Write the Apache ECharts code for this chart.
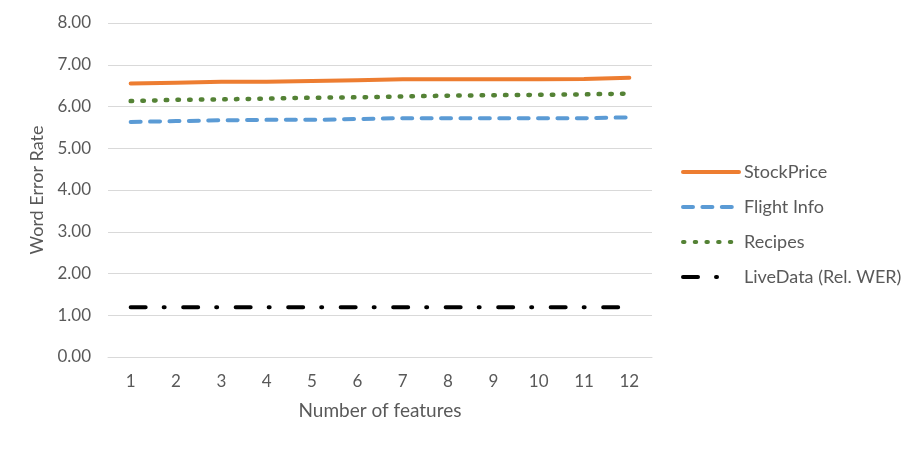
<!DOCTYPE html>
<html>
<head>
<meta charset="utf-8">
<script src="https://cdn.jsdelivr.net/npm/echarts@6/dist/echarts.min.js"></script>
<style>
  html, body { margin: 0; padding: 0; background: #fff; }
  #chart { width: 912px; height: 449px; }
</style>
</head>
<body>
<div id="chart"></div>
<script>
// 数据
const features = ['1', '2', '3', '4', '5', '6', '7', '8', '9', '10', '11', '12']
const stockPrice = [6.55, 6.57, 6.59, 6.59, 6.61, 6.63, 6.65, 6.65, 6.65, 6.65, 6.66, 6.69]
const flightInfo = [5.63, 5.65, 5.67, 5.68, 5.68, 5.70, 5.72, 5.72, 5.72, 5.72, 5.72, 5.74]
const recipes = [6.13, 6.16, 6.17, 6.19, 6.21, 6.22, 6.24, 6.26, 6.27, 6.28, 6.29, 6.31]
const liveData = [1.19, 1.19, 1.19, 1.19, 1.19, 1.19, 1.19, 1.19, 1.19, 1.19, 1.19, 1.19]
const seriesNames = ['StockPrice', 'Flight Info', 'Recipes', 'LiveData (Rel. WER)']

const font = 'Lato, "Open Sans", sans-serif'
const textColor = '#595959'

const myChart = echarts.init(document.getElementById('chart'), null, { renderer: 'canvas' })

const option = {
  animation: false,
  backgroundColor: '#fff',
  grid: {
    left: 108,
    right: 260,
    top: 23,
    bottom: 92
  },
  legend: {
    orient: 'vertical',
    left: 681,
    top: 163,
    padding: 0,
    itemGap: 17,
    itemWidth: 56,
    itemHeight: 14,
    itemStyle: { opacity: 0 },
    lineStyle: { width: 4 },
    textStyle: { fontFamily: font, fontSize: 18, lineHeight: 18, color: textColor },
    data: [
      { name: seriesNames[0] },
      { name: seriesNames[1] },
      { name: seriesNames[2] },
      { name: seriesNames[3], lineStyle: { width: 4, type: [15, 18, 1, 40] } }
    ]
  },
  xAxis: {
    type: 'category',
    data: features,
    boundaryGap: true,
    name: 'Number of features',
    nameLocation: 'middle',
    nameGap: 44,
    nameTextStyle: { fontFamily: font, fontSize: 19, color: textColor },
    axisLine: { lineStyle: { color: '#d9d9d9', width: 1 } },
    axisTick: { show: false },
    axisLabel: { fontFamily: font, fontSize: 17, color: textColor, margin: 16 }
  },
  yAxis: {
    type: 'value',
    min: 0,
    max: 8,
    interval: 1,
    name: 'Word Error Rate',
    nameLocation: 'middle',
    nameGap: 52,
    nameTextStyle: { fontFamily: font, fontSize: 18, color: textColor },
    axisLine: { show: false },
    axisTick: { show: false },
    splitLine: { lineStyle: { color: '#d9d9d9', width: 1 } },
    axisLabel: {
      fontFamily: font, fontSize: 17, color: textColor, margin: 17,
      formatter: (v) => v.toFixed(2)
    }
  },
  series: [
    {
      name: seriesNames[0],
      type: 'line',
      data: stockPrice,
      symbol: 'none',
      color: '#ed7d31',
      lineStyle: { color: '#ed7d31', width: 4, cap: 'round' }
    },
    {
      name: seriesNames[1],
      type: 'line',
      data: flightInfo,
      symbol: 'none',
      color: '#5b9bd5',
      lineStyle: { color: '#5b9bd5', width: 4, type: [10, 9.4], cap: 'round' }
    },
    {
      name: seriesNames[2],
      type: 'line',
      data: recipes,
      symbol: 'none',
      color: '#548235',
      lineStyle: { color: '#548235', width: 4.5, type: [1.5, 10.2], cap: 'round' }
    },
    {
      name: seriesNames[3],
      type: 'line',
      data: liveData,
      symbol: 'none',
      color: '#000000',
      lineStyle: { color: '#000000', width: 4, type: [15, 18, 1, 18.5], cap: 'round' }
    }
  ]
}

myChart.setOption(option)
</script>
</body>
</html>
